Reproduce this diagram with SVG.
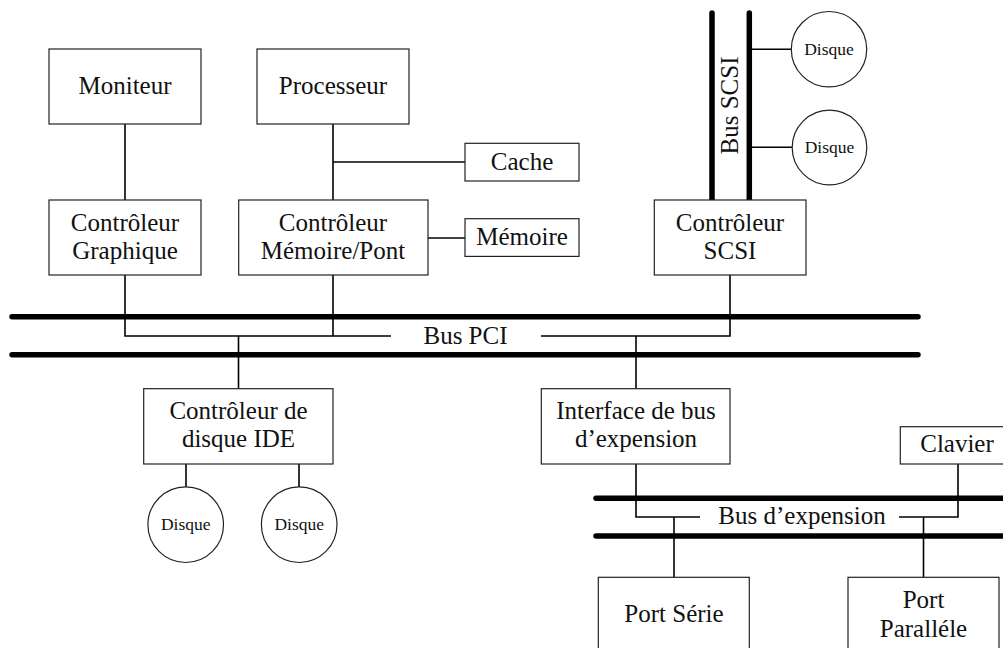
<svg xmlns="http://www.w3.org/2000/svg" width="1003" height="648" viewBox="0 0 1003 648">
<style>
.box{fill:#fff;stroke:#222;stroke-width:1.2}
.disk{fill:#fff;stroke:#222;stroke-width:1.2}
.t{font-family:"Liberation Serif","Times New Roman",serif;font-size:25px;fill:#111;text-anchor:middle}
.s{font-family:"Liberation Serif","Times New Roman",serif;font-size:17.5px;fill:#111;text-anchor:middle}
.bus{stroke:#000;stroke-width:5.5;stroke-linecap:round;fill:none}
.c{stroke:#000;stroke-width:1.6;fill:none}
</style>
<rect width="1003" height="648" fill="#fff"/>
<g id="connectors">
<line class="c" x1="125" y1="124" x2="125" y2="200"/>
<line class="c" x1="333" y1="124" x2="333" y2="200"/>
<line class="c" x1="333" y1="162" x2="465" y2="162"/>
<line class="c" x1="428" y1="238" x2="465" y2="238"/>
<polyline class="c" points="125,275 125,336 391,336"/>
<line class="c" x1="333" y1="275" x2="333" y2="336"/>
<polyline class="c" points="541,336 730,336 730,275"/>
<line class="c" x1="238.5" y1="336" x2="238.5" y2="389"/>
<line class="c" x1="636" y1="336" x2="636" y2="389"/>
<line class="c" x1="186" y1="464" x2="186" y2="487"/>
<line class="c" x1="299" y1="464" x2="299" y2="487"/>
<line class="c" x1="749" y1="49.3" x2="791" y2="49.3"/>
<line class="c" x1="749" y1="147.3" x2="792" y2="147.3"/>
<polyline class="c" points="636,464 636,517 700,517"/>
<polyline class="c" points="899,517 958,517 958,464"/>
<line class="c" x1="674" y1="517" x2="674" y2="577"/>
<line class="c" x1="923.5" y1="517" x2="923.5" y2="577"/>
</g>
<g id="bus-pci">
<line class="bus" x1="12" y1="316.7" x2="918" y2="316.7"/>
<line class="bus" x1="12" y1="354.7" x2="918" y2="354.7"/>
<text class="t" x="465.5" y="343.5">Bus PCI</text>
</g>
<g id="bus-scsi">
<line class="bus" x1="712" y1="13" x2="712" y2="200"/>
<line class="bus" x1="749.3" y1="13" x2="749.3" y2="200"/>
<text class="t" x="738" y="105.5" transform="rotate(-90 738 105.5)">Bus SCSI</text>
</g>
<g id="bus-expension">
<line class="bus" x1="596" y1="498.3" x2="1010" y2="498.3"/>
<line class="bus" x1="596" y1="536" x2="1010" y2="536"/>
<text class="t" x="802" y="524">Bus d’expension</text>
</g>
<g id="moniteur"><rect class="box" x="49" y="49" width="152" height="75"/><text class="t" x="125" y="94.3">Moniteur</text></g>
<g id="processeur"><rect class="box" x="257" y="49" width="152" height="75"/><text class="t" x="333" y="94.3">Processeur</text></g>
<g id="cache"><rect class="box" x="465" y="143.3" width="114" height="37.7"/><text class="t" x="522" y="170">Cache</text></g>
<g id="memoire"><rect class="box" x="465" y="218.7" width="114" height="37.7"/><text class="t" x="522" y="245">Mémoire</text></g>
<g id="ctrl-graphique"><rect class="box" x="49" y="200" width="152" height="75"/><text class="t" x="125" y="231">Contrôleur</text><text class="t" x="125" y="259">Graphique</text></g>
<g id="ctrl-memoire"><rect class="box" x="238.7" y="200" width="189.3" height="75"/><text class="t" x="333" y="231">Contrôleur</text><text class="t" x="333" y="259">Mémoire/Pont</text></g>
<g id="ctrl-scsi"><rect class="box" x="654.3" y="200" width="151.7" height="75"/><text class="t" x="730" y="231">Contrôleur</text><text class="t" x="730" y="259">SCSI</text></g>
<g id="disque-scsi-1"><circle class="disk" cx="829" cy="49.2" r="37.7"/><text class="s" x="829" y="54.7">Disque</text></g>
<g id="disque-scsi-2"><circle class="disk" cx="829.5" cy="147.5" r="37.3"/><text class="s" x="829.5" y="153">Disque</text></g>
<g id="ctrl-ide"><rect class="box" x="143.7" y="388.7" width="189.3" height="75.3"/><text class="t" x="238.5" y="419.3">Contrôleur de</text><text class="t" x="238.5" y="447.3">disque IDE</text></g>
<g id="disque-ide-1"><circle class="disk" cx="185.7" cy="524.7" r="37.8"/><text class="s" x="185.7" y="530">Disque</text></g>
<g id="disque-ide-2"><circle class="disk" cx="299.2" cy="524.7" r="37.8"/><text class="s" x="299.2" y="530">Disque</text></g>
<g id="interface-expension"><rect class="box" x="541.3" y="388.7" width="188.7" height="75.3"/><text class="t" x="636" y="419.3">Interface de bus</text><text class="t" x="636" y="447.3">d’expension</text></g>
<g id="clavier"><rect class="box" x="900.3" y="426.7" width="114" height="37.3"/><text class="t" x="957" y="452">Clavier</text></g>
<g id="port-serie"><rect class="box" x="598.3" y="577.3" width="151" height="90"/><text class="t" x="674" y="621.7">Port Série</text></g>
<g id="port-parallele"><rect class="box" x="848" y="577.3" width="151" height="90"/><text class="t" x="923.5" y="607.7">Port</text><text class="t" x="923.5" y="636.7">Paralléle</text></g>
</svg>
